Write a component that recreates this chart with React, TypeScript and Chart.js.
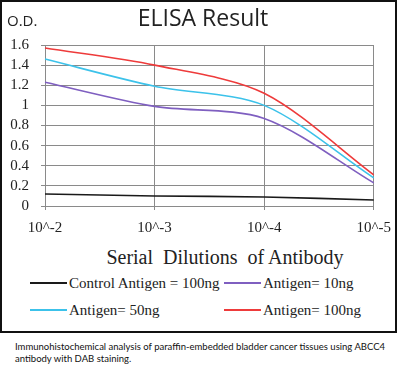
import React, { useEffect, useRef } from "react";
import { Chart, registerables } from "chart.js";

Chart.register(...registerables);

const dilutions = ["10^-2", "10^-3", "10^-4", "10^-5"];
const controlValues = [0.12, 0.1, 0.09, 0.06];
const antigen10Values = [1.23, 0.99, 0.87, 0.23];
const antigen50Values = [1.46, 1.19, 1.0, 0.28];
const antigen100Values = [1.57, 1.4, 1.12, 0.31];
const seriesNames = ["Control Antigen = 100ng", "Antigen= 10ng", "Antigen= 50ng", "Antigen= 100ng"];
const seriesColors = ["#1a1a1a", "#7f5fc0", "#3cc2ea", "#ee3b3b"];
const yTicks = [0, 0.2, 0.4, 0.6, 0.8, 1, 1.2, 1.4, 1.6];

const serif = "'Liberation Serif'";

export default function App() {
  const canvasRef = useRef<HTMLCanvasElement | null>(null);

  useEffect(() => {
    const ctx = canvasRef.current;
    if (!ctx) return;
    const values = [controlValues, antigen10Values, antigen50Values, antigen100Values];
    const chart = new Chart(ctx, {
      type: "line",
      data: {
        labels: dilutions,
        datasets: values.map((v, i) => ({
          label: seriesNames[i],
          data: v,
          borderColor: seriesColors[i],
          backgroundColor: seriesColors[i],
          borderWidth: 1.6,
          pointRadius: 0,
          tension: 0.3,
          fill: false,
        })),
      },
      options: {
        animation: false,
        responsive: false,
        maintainAspectRatio: false,
        layout: { padding: { top: 45, left: 0, right: 25, bottom: 0 } },
        plugins: {
          legend: { display: false },
          title: { display: false },
          tooltip: { enabled: false },
        },
        scales: {
          x: {
            type: "category",
            offset: false,
            afterFit: (s: any) => {
              s.height = 34;
            },
            grid: { color: "#8a8a8a", lineWidth: 1, tickLength: 4, drawTicks: true },
            border: { color: "#8a8a8a" },
            ticks: {
              color: "#222",
              font: { family: serif, size: 15 },
              padding: 9,
              maxRotation: 0,
              autoSkip: false,
            },
          },
          y: {
            min: 0,
            max: 1.6,
            afterFit: (s: any) => {
              s.width = 45;
            },
            afterBuildTicks: (s: any) => {
              s.ticks = yTicks.map((v) => ({ value: v }));
            },
            grid: { color: "#8a8a8a", lineWidth: 1, tickLength: 4, drawTicks: true },
            border: { color: "#8a8a8a" },
            ticks: {
              color: "#222",
              font: { family: serif, size: 15 },
              padding: 12,
              autoSkip: false,
              callback: (v: any) => String(Number(Number(v).toFixed(1))),
            },
          },
        },
      },
    });
    return () => chart.destroy();
  }, []);

  const legendPos = [
    { left: 30, top: 274 },
    { left: 224, top: 274 },
    { left: 30, top: 301 },
    { left: 224, top: 301 },
  ];

  return (
    <div
      style={{
        position: "fixed",
        left: 0,
        top: 0,
        width: 400,
        height: 373,
        background: "#fff",
        overflow: "hidden",
      }}
    >
      <div
        style={{
          position: "absolute",
          left: 0,
          top: 0,
          width: 397,
          height: 333,
          border: "2px solid #111",
          boxSizing: "border-box",
        }}
      />
      <canvas
        ref={canvasRef}
        width={400}
        height={240}
        style={{ position: "absolute", left: 0, top: 0, width: 400, height: 240 }}
      />
      <div
        style={{
          position: "absolute",
          left: 0,
          width: 406,
          top: 2,
          textAlign: "center",
          fontFamily: "'Open Sans'",
          fontSize: 23,
          color: "#222",
          lineHeight: "30px",
        }}
      >
        ELISA Result
      </div>
      <div
        style={{
          position: "absolute",
          left: 7,
          top: 9,
          fontFamily: "'Open Sans'",
          fontSize: 15,
          color: "#222",
          lineHeight: "22px",
        }}
      >
        O.D.
      </div>
      <div
        style={{
          position: "absolute",
          left: 0,
          width: 450,
          top: 244,
          textAlign: "center",
          fontFamily: serif,
          fontSize: 20,
          color: "#222",
          lineHeight: "26px",
          whiteSpace: "pre",
        }}
      >
        {"Serial  Dilutions  of Antibody"}
      </div>
      {seriesNames.map((name, i) => (
        <div
          key={name}
          style={{
            position: "absolute",
            left: legendPos[i].left,
            top: legendPos[i].top,
            height: 18,
            display: "flex",
            alignItems: "center",
            fontFamily: serif,
            fontSize: 15,
            color: "#222",
            whiteSpace: "nowrap",
          }}
        >
          <span
            style={{
              display: "inline-block",
              width: 37,
              height: 2,
              background: seriesColors[i],
              marginRight: 2,
            }}
          />
          <span>{name}</span>
        </div>
      ))}
      <div
        style={{
          position: "absolute",
          left: 15,
          top: 341,
          fontFamily: "'Lato'",
          fontSize: 9.5,
          color: "#111",
          lineHeight: "12px",
          width: 385,
          whiteSpace: "nowrap",
        }}
      >
        Immunohistochemical analysis of paraffin-embedded bladder cancer tissues using ABCC4
        <br />
        antibody with DAB staining.
      </div>
    </div>
  );
}
